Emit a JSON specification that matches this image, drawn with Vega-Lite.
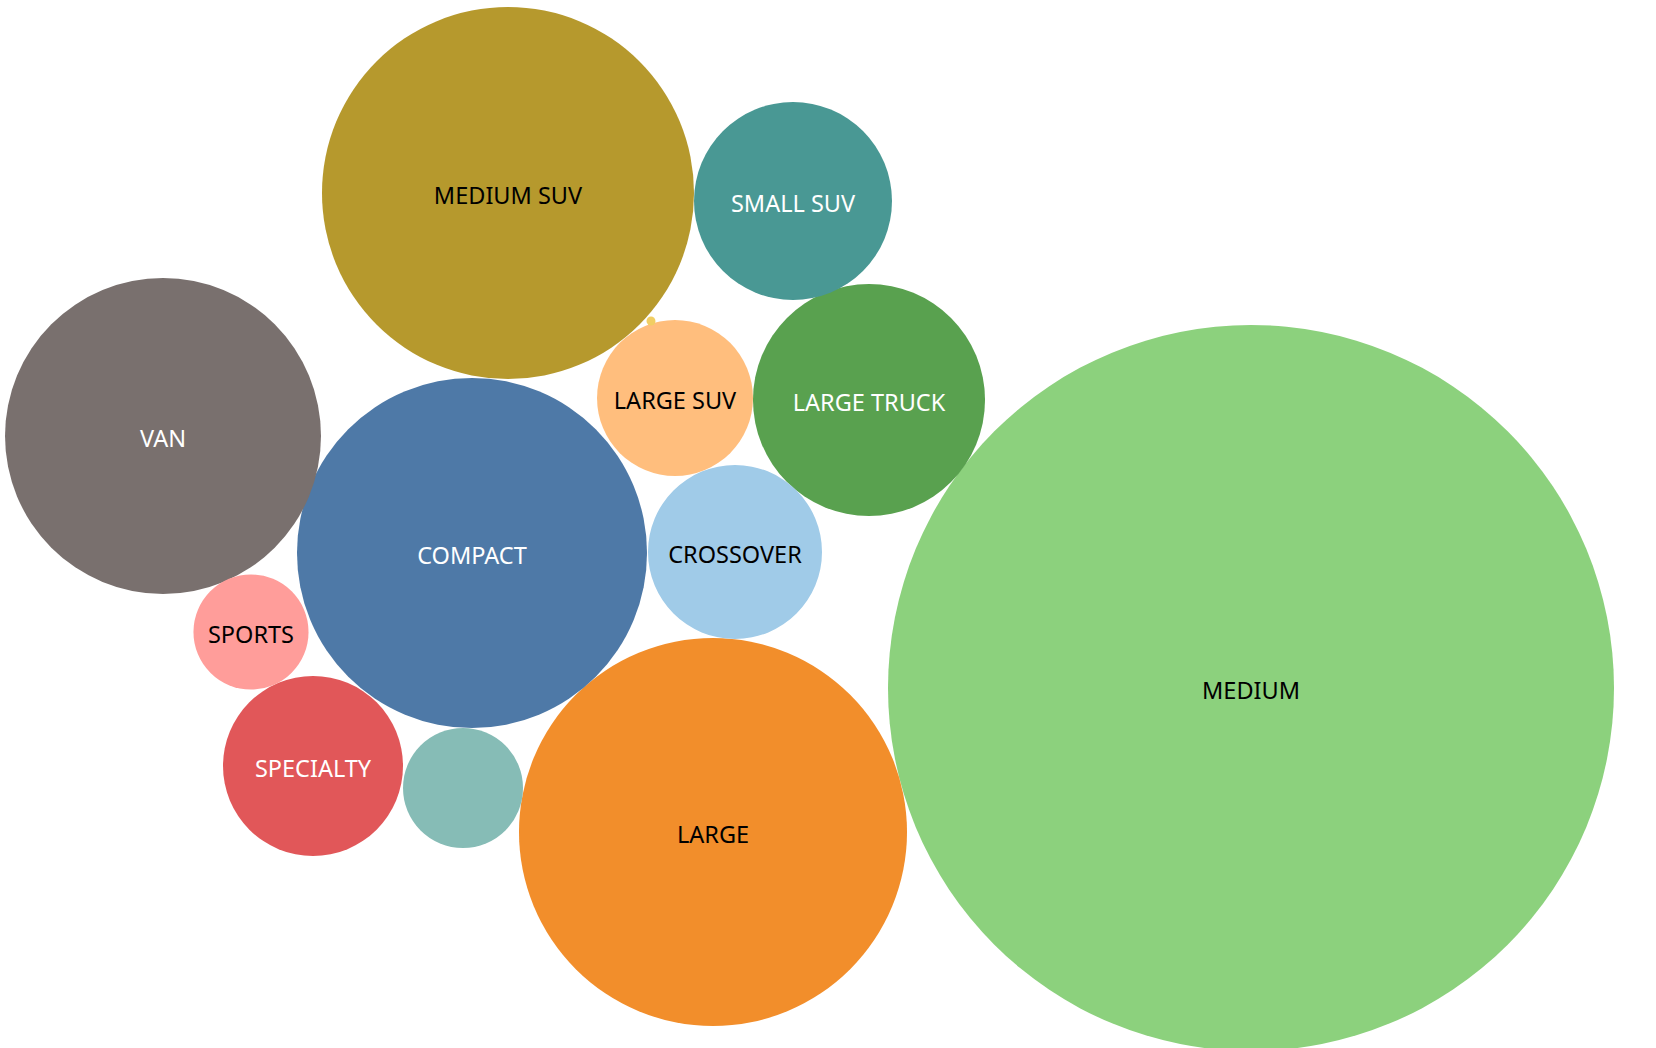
{
  "$schema": "https://vega.github.io/schema/vega-lite/v6.json",
  "width": 1656,
  "height": 1048,
  "autosize": {"type": "none"},
  "padding": 0,
  "background": "white",
  "config": {"view": {"stroke": null}},
  "data": {
    "values": [
      {"category": "MEDIUM", "x": 1251, "y": 688, "count": 13177},
      {"category": "LARGE", "x": 713, "y": 832, "count": 3764},
      {"category": "MEDIUM SUV", "x": 508, "y": 193, "count": 3460},
      {"category": "COMPACT", "x": 472, "y": 553, "count": 3063},
      {"category": "VAN", "x": 163, "y": 436, "count": 2496},
      {"category": "LARGE TRUCK", "x": 869, "y": 400, "count": 1346},
      {"category": "SMALL SUV", "x": 793, "y": 201, "count": 980},
      {"category": "SPECIALTY", "x": 313, "y": 766, "count": 810},
      {"category": "CROSSOVER", "x": 735, "y": 552, "count": 757},
      {"category": "LARGE SUV", "x": 675, "y": 398, "count": 608},
      {"category": "SMALL TRUCK", "x": 463, "y": 788, "count": 360},
      {"category": "SPORTS", "x": 251, "y": 632, "count": 331},
      {"category": "MINI", "x": 651, "y": 321, "count": 2}
    ]
  },
  "encoding": {
    "x": {"field": "x", "type": "quantitative", "scale": {"domain": [0, 1656]}, "axis": null},
    "y": {"field": "y", "type": "quantitative", "scale": {"domain": [0, 1048], "reverse": true}, "axis": null}
  },
  "layer": [
    {
      "mark": {"type": "circle", "opacity": 1, "stroke": null},
      "encoding": {
        "size": {"field": "count", "type": "quantitative", "scale": {"type": "linear", "domain": [0, 10000], "range": [0, 400000]}, "legend": null},
        "color": {
          "field": "category", "type": "nominal", "legend": null,
          "scale": {
            "domain": ["MEDIUM", "LARGE", "MEDIUM SUV", "COMPACT", "VAN", "LARGE TRUCK", "SMALL SUV", "SPECIALTY", "CROSSOVER", "LARGE SUV", "SMALL TRUCK", "SPORTS", "MINI"],
            "range": ["#8cd17d", "#f28e2b", "#b6992d", "#4e79a7", "#79706e", "#59a14f", "#499894", "#e15759", "#a0cbe8", "#ffbe7d", "#86bcb6", "#ff9d9a", "#f1ce63"]
          }
        }
      }
    },
    {
      "transform": [{"filter": "datum.category != 'SMALL TRUCK' && datum.category != 'MINI'"}],
      "mark": {"type": "text", "font": "Noto Sans", "fontSize": 23.5, "align": "center", "baseline": "middle", "dy": 4},
      "encoding": {
        "text": {"field": "category", "type": "nominal"},
        "color": {
          "field": "category", "type": "nominal", "legend": null,
          "scale": {
            "domain": ["MEDIUM", "LARGE", "MEDIUM SUV", "COMPACT", "VAN", "LARGE TRUCK", "SMALL SUV", "SPECIALTY", "CROSSOVER", "LARGE SUV", "SPORTS"],
            "range": ["#000000", "#000000", "#000000", "#ffffff", "#ffffff", "#ffffff", "#ffffff", "#ffffff", "#000000", "#000000", "#000000"]
          }
        }
      }
    }
  ],
  "resolve": {"scale": {"color": "independent"}}
}
